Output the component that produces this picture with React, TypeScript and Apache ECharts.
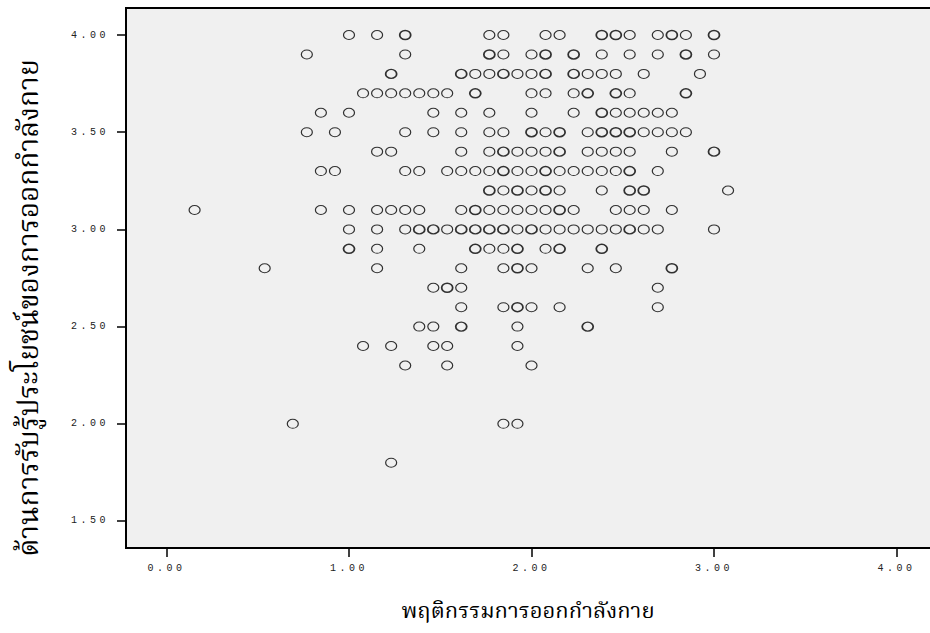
import React, { useEffect, useRef } from "react";
import * as echarts from "echarts";

// Axis ticks and titles
const xTicks = [0, 1, 2, 3, 4];
const yTicks = [1.5, 2, 2.5, 3, 3.5, 4];
const xTitle = "พฤติกรรมการออกกำลังกาย";
const yTitle = "ด้านการรับรู้ประโยชน์ของการออกกำลังกาย";

// Exercise-behaviour scores observed at each perceived-benefit level.
// A repeated value means several respondents share the same point.
const benefitLevels = [4.0, 3.9, 3.8, 3.7, 3.6, 3.5, 3.4, 3.3, 3.2, 3.1, 3.0, 2.9, 2.8, 2.7, 2.6, 2.5, 2.4, 2.3, 2.0, 1.8];

const at400 = [1.0, 1.154, 1.308, 1.308, 1.769, 1.846, 2.077, 2.154, 2.385, 2.385, 2.462, 2.462, 2.538, 2.692, 2.769, 2.769, 2.846, 3.0, 3.0];
const at390 = [0.769, 1.308, 1.769, 1.769, 1.846, 2.0, 2.077, 2.077, 2.231, 2.231, 2.385, 2.538, 2.692, 2.846, 2.846, 3.0];
const at380 = [1.231, 1.231, 1.615, 1.615, 1.692, 1.769, 1.846, 1.846, 1.923, 2.0, 2.077, 2.077, 2.231, 2.231, 2.308, 2.385, 2.462, 2.615, 2.923];
const at370 = [1.077, 1.154, 1.231, 1.308, 1.385, 1.462, 1.538, 1.692, 1.692, 2.0, 2.077, 2.231, 2.308, 2.308, 2.462, 2.462, 2.538, 2.846, 2.846];
const at360 = [0.846, 1.0, 1.462, 1.615, 1.769, 2.0, 2.231, 2.385, 2.385, 2.462, 2.538, 2.615, 2.692, 2.769];
const at350 = [0.769, 0.923, 1.308, 1.462, 1.615, 1.769, 1.846, 2.0, 2.0, 2.077, 2.154, 2.154, 2.308, 2.385, 2.385, 2.462, 2.462, 2.538, 2.538, 2.538, 2.615, 2.692, 2.769, 2.846];
const at340 = [1.154, 1.231, 1.615, 1.769, 1.846, 1.846, 1.923, 2.0, 2.077, 2.154, 2.154, 2.308, 2.385, 2.462, 2.538, 2.769, 3.0, 3.0];
const at330 = [0.846, 0.923, 1.308, 1.385, 1.538, 1.615, 1.692, 1.769, 1.846, 1.846, 1.923, 2.0, 2.077, 2.077, 2.154, 2.231, 2.308, 2.385, 2.462, 2.538, 2.538, 2.692];
const at320 = [1.769, 1.769, 1.846, 1.923, 1.923, 2.0, 2.077, 2.077, 2.154, 2.385, 2.538, 2.538, 2.615, 2.615, 3.077];
const at310 = [0.154, 0.846, 1.0, 1.154, 1.231, 1.308, 1.385, 1.615, 1.692, 1.692, 1.769, 1.846, 1.923, 2.0, 2.077, 2.154, 2.154, 2.231, 2.462, 2.538, 2.615, 2.769];
const at300 = [1.0, 1.154, 1.308, 1.385, 1.385, 1.462, 1.462, 1.538, 1.615, 1.615, 1.692, 1.692, 1.769, 1.769, 1.846, 1.846, 1.923, 2.0, 2.0, 2.077, 2.154, 2.231, 2.308, 2.385, 2.462, 2.538, 2.538, 2.615, 2.692, 3.0];
const at290 = [1.0, 1.0, 1.154, 1.385, 1.692, 1.692, 1.769, 1.846, 1.923, 1.923, 2.077, 2.154, 2.154, 2.385, 2.385];
const at280 = [0.538, 1.154, 1.615, 1.846, 1.923, 1.923, 2.0, 2.308, 2.462, 2.769, 2.769];
const at270 = [1.462, 1.538, 1.538, 1.615, 2.692];
const at260 = [1.615, 1.846, 1.923, 1.923, 2.0, 2.154, 2.692];
const at250 = [1.385, 1.462, 1.615, 1.615, 1.923, 2.308, 2.308];
const at240 = [1.077, 1.231, 1.462, 1.538, 1.923];
const at230 = [1.308, 1.538, 2.0];
const at200 = [0.692, 1.846, 1.923];
const at180 = [1.231];

const behaviourByLevel = [
  at400, at390, at380, at370, at360, at350, at340, at330, at320, at310,
  at300, at290, at280, at270, at260, at250, at240, at230, at200, at180,
];

// Plot frame: 0..4 and 1.5..4 sit inside with a margin on every side
const X_MIN = -0.2219;
const X_MAX = 4.2219;
const Y_MIN = 1.3611;
const Y_MAX = 4.1389;

const THAI_FONT = "'Noto Serif Thai', 'Noto Sans Thai', 'Norasi', 'Garuda', 'Loma', 'Tlwg Typo', serif";
const TICK_FONT = "'Liberation Mono', monospace";

// Hollow, slightly flattened ring marker
const ringSymbol = "path://M0,5 A5,5 0 1,1 10,5 A5,5 0 1,1 0,5 Z";

function buildPoints() {
  const points: any[] = [];
  benefitLevels.forEach((level, i) => {
    const counts = new Map<number, number>();
    behaviourByLevel[i].forEach((x) => counts.set(x, (counts.get(x) || 0) + 1));
    counts.forEach((n, x) => {
      points.push({
        value: [x, level],
        itemStyle: { borderWidth: n > 1 ? 1.6 : 1.1 },
      });
    });
  });
  return points;
}

export default function App() {
  const ref = useRef<HTMLDivElement>(null);

  useEffect(() => {
    const el = ref.current;
    if (!el) return;
    const chart = echarts.init(el, null, { renderer: "svg" });

    const tickLabel = {
      fontFamily: TICK_FONT,
      fontSize: 10,
      color: "#222",
      formatter: (v: number) => v.toFixed(2),
    };

    chart.setOption({
      animation: false,
      backgroundColor: "#ffffff",
      grid: {
        left: 126,
        top: 8,
        width: 811,
        height: 540,
        show: true,
        backgroundColor: "#f0f0f0",
        borderColor: "#000",
        borderWidth: 2,
        containLabel: false,
        outerBoundsMode: "none",
      },
      xAxis: {
        type: "value",
        min: X_MIN,
        max: X_MAX,
        splitLine: { show: false },
        axisLine: { show: true, onZero: false, lineStyle: { color: "#000", width: 2 } },
        axisTick: { show: true, length: 9, customValues: xTicks, lineStyle: { color: "#000", width: 1.5 } },
        axisLabel: { ...tickLabel, customValues: xTicks, margin: 15 },
      },
      yAxis: {
        type: "value",
        min: Y_MIN,
        max: Y_MAX,
        splitLine: { show: false },
        axisLine: { show: true, onZero: false, lineStyle: { color: "#000", width: 2 } },
        axisTick: { show: true, length: 9, customValues: yTicks, lineStyle: { color: "#000", width: 1.5 } },
        axisLabel: { ...tickLabel, customValues: yTicks, margin: 17 },
      },
      series: [
        {
          type: "scatter",
          silent: true,
          symbol: ringSymbol,
          symbolSize: [11, 9],
          itemStyle: { color: "rgba(0,0,0,0)", borderColor: "#000", borderWidth: 1.1 },
          data: buildPoints(),
        },
      ],
      graphic: [
        {
          type: "text",
          x: 528,
          y: 612,
          style: {
            text: xTitle,
            fontFamily: THAI_FONT,
            fontSize: 22,
            fill: "#000",
            align: "center",
            verticalAlign: "middle",
          },
        },
        {
          type: "text",
          x: 30,
          y: 308,
          rotation: Math.PI / 2,
          style: {
            text: yTitle,
            fontFamily: THAI_FONT,
            fontSize: 28,
            fill: "#000",
            align: "center",
            verticalAlign: "middle",
          },
        },
      ],
    });

    return () => chart.dispose();
  }, []);

  return (
    <>
      <style>{`body{margin:0} .scatter-chart text[style*="Liberation Mono"]{letter-spacing:3.5px}`}</style>
      <div ref={ref} className="scatter-chart" style={{ width: 930, height: 633 }} />
    </>
  );
}
